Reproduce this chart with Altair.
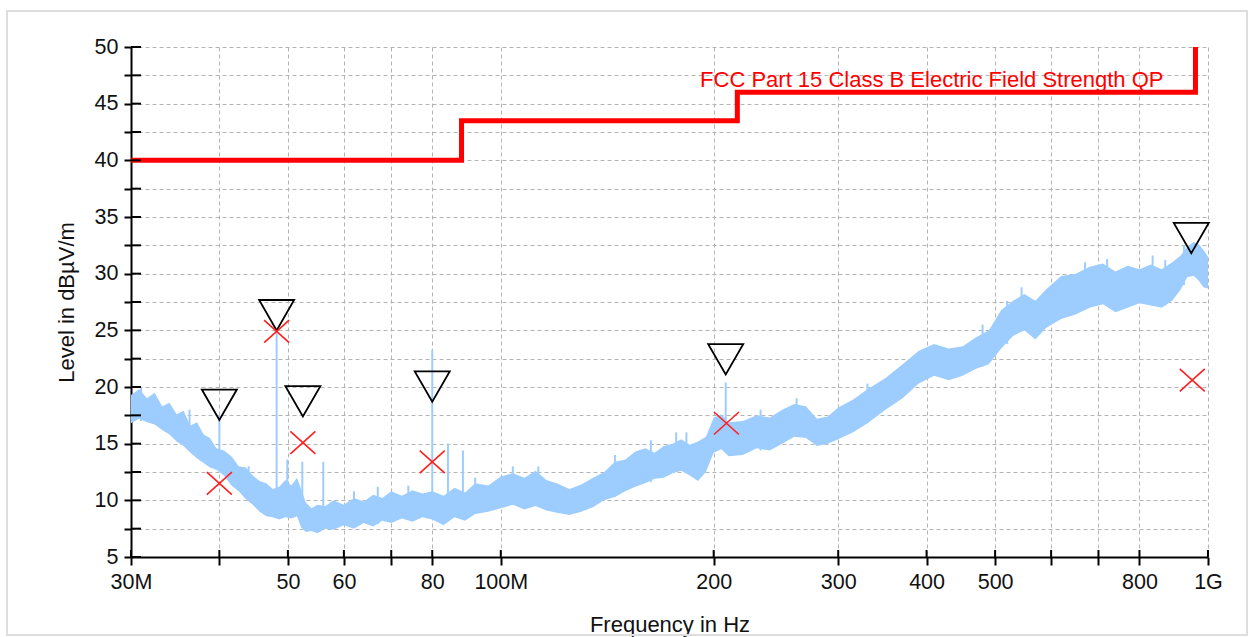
import altair as alt
import pandas as pd

# ---- measured spectrum envelope (MHz, dBuV/m) ----
FREQ = [30, 30.8, 31.6, 32.4, 33.2, 34.0, 34.8, 35.6, 36.4, 37.2, 38.0, 38.8, 39.6,
        40.6, 41.6, 42.6, 43.6, 44.6, 45.6, 46.6, 47.6, 48.6, 49.6, 50.6, 51.5, 52.2,
        53.0, 54.0, 55.0, 56.5, 58.0, 60.0, 62.0, 64.0, 66.0, 68.0, 70.0, 72.5, 75.0,
        77.5, 80.0, 83.0, 86.0, 89.0, 92.0, 96.0, 100, 104, 108, 112, 116, 120, 125,
        130, 135, 140, 145, 150, 155, 160, 165, 170, 175, 180, 185, 190, 195, 200,
        205, 210, 220, 230, 240, 250, 260, 270, 280, 290, 300, 315, 330, 350, 370,
        390, 410, 430, 450, 470, 490, 510, 530, 550, 570, 590, 620, 650, 680, 710,
        740, 770, 800, 830, 860, 890, 915, 935, 955, 970, 985, 1000]
LOW = [16.8, 17.2, 16.9, 16.7, 16.2, 15.8, 15.2, 14.8, 14.2, 13.7, 13.3, 12.9, 12.7,
       12.2, 11.3, 10.8, 10.1, 9.6, 9.0, 8.6, 8.5, 8.3, 8.5, 8.4, 8.6, 7.6,
       7.2, 7.3, 7.1, 7.5, 7.4, 7.8, 7.5, 8.0, 7.7, 8.2, 8.0, 8.4, 8.1,
       8.5, 8.3, 7.8, 8.5, 8.2, 8.8, 9.0, 9.3, 9.6, 9.2, 9.5, 9.1, 8.9, 8.7,
       9.0, 9.4, 10.0, 10.3, 10.8, 11.2, 11.5, 11.9, 12.0, 12.4, 12.6, 12.2, 11.7, 12.5, 14.2,
       14.5, 13.9, 14.0, 14.6, 14.4, 15.0, 15.6, 15.5, 14.8, 15.0, 15.4, 16.0, 16.8, 18.0, 19.0,
       20.3, 21.0, 20.6, 21.0, 21.6, 22.0, 23.4, 24.5, 25.0, 24.2, 25.2, 26.0, 26.4, 27.0, 27.3,
       26.6, 27.0, 27.4, 27.2, 27.0, 27.6, 28.6, 29.7, 29.8, 29.4, 28.8, 28.7]
HIGH = [19.3, 19.8, 19.0, 19.5, 18.3, 18.6, 17.6, 17.9, 16.6, 16.9, 15.8, 15.5, 14.6,
        14.4, 13.9, 13.0, 12.9, 12.2, 11.7, 11.5, 11.0, 11.2, 11.8, 11.3, 12.0, 11.0,
        9.8, 9.3, 9.6, 9.5, 10.0, 9.6, 10.2, 9.9, 10.5, 10.2, 10.8, 10.4, 10.9,
        10.6, 10.8, 10.4, 11.1, 10.7, 11.5, 11.3, 12.1, 12.4, 12.0, 12.6, 11.8, 11.5, 11.0,
        11.4, 12.0, 12.5, 13.4, 13.6, 14.3, 14.6, 14.2, 14.8, 15.0, 15.4, 14.9, 15.2, 15.6, 17.3,
        17.6, 16.9, 17.0, 17.5, 17.3, 18.0, 18.5, 18.3, 17.2, 17.4, 18.2, 18.9, 19.8, 20.8, 22.0,
        23.2, 23.8, 23.4, 23.6, 24.4, 25.0, 26.8, 27.6, 28.2, 27.6, 28.6, 29.8, 30.0, 30.6, 30.9,
        30.2, 30.7, 30.4, 30.8, 30.4, 31.0, 31.6, 32.4, 32.8, 32.6, 32.1, 31.5]

# ---- narrow spikes (discrete emissions and noise tips) ----
SPIKE_FREQ = [40.0, 48.2, 49.9, 52.4, 56.1, 80.0, 84.2, 88.4, 177, 208,
              31.0, 36.3, 44.0, 62.0, 67.0, 74.0, 92.0, 104, 113, 145, 163, 183,
              233, 262, 330, 480, 520, 545, 670, 720, 835, 870, 925]
SPIKE_TOP = [17.5, 25.0, 13.6, 13.4, 13.4, 23.3, 15.0, 14.4, 16.0, 20.4,
             19.9, 18.0, 13.0, 10.8, 11.2, 11.3, 12.0, 13.0, 13.0, 14.0, 15.3, 16.0,
             18.0, 19.0, 20.3, 25.5, 27.6, 28.8, 31.0, 31.3, 31.6, 31.2, 32.5]
SPIKE_BASE = [13.0, 9.0, 9.5, 9.0, 8.0, 9.0, 9.0, 9.0, 13.0, 15.0,
              17.0, 14.5, 10.0, 7.8, 7.9, 8.4, 8.8, 9.6, 9.4, 10.3, 11.6, 12.4,
              14.4, 15.6, 16.8, 21.8, 23.8, 25.0, 26.8, 27.2, 27.2, 27.2, 29.0]

# ---- limit line ----
LIMIT_FREQ = [30, 88, 88, 216, 216, 960, 960]
LIMIT_LEVEL = [40, 40, 43.5, 43.5, 46, 46, 54]
LIMIT_NAME = "FCC Part 15 Class B Electric Field Strength QP"

# ---- markers ----
PEAK_FREQ = [40.0, 48.2, 52.5, 80.0, 208, 947]
PEAK_LEVEL = [17.1, 25.0, 17.4, 18.7, 21.1, 31.8]
QP_FREQ = [40.0, 48.2, 52.5, 80.0, 208.5, 950]
QP_LEVEL = [11.5, 24.9, 15.1, 13.4, 16.8, 20.6]

# ---- axes ----
X_TICKS = [30, 40, 50, 60, 70, 80, 100, 200, 300, 400, 500, 600, 700, 800, 1000]
X_LABELS = ["30M", "", "50", "60", "", "80", "100M", "200", "300", "400", "500", "", "", "800", "1G"]
Y_TICKS = [5, 7.5, 10, 12.5, 15, 17.5, 20, 22.5, 25, 27.5, 30, 32.5, 35, 37.5, 40, 42.5, 45, 47.5, 50]

W, H = 1077, 510
FONT = "Liberation Sans"
BLUE = "#9dcdff"
GRID = "#b4b4b4"

xscale = alt.Scale(type="log", domain=[30, 1000], nice=False)
yscale = alt.Scale(domain=[5, 50], nice=False, zero=False)

label_expr = " : ".join(
    f"datum.value == {v} ? '{l}'" for v, l in zip(X_TICKS, X_LABELS)
) + " : ''"

xaxis = alt.Axis(values=X_TICKS, labelExpr=label_expr, title="Frequency in Hz",
                 grid=True, gridDash=[4, 3], gridColor=GRID, gridWidth=1,
                 domainColor="black", domainWidth=2, tickColor="black", tickWidth=2,
                 tickSize=8, labelFont=FONT, labelFontSize=21.5, labelColor="#111",
                 labelPadding=6, labelFlush=False, labelOverlap=False,
                 titleFont=FONT, titleFontSize=22, titleFontWeight="normal",
                 titleColor="#111", titleX=W / 2, titleY=74, titleBaseline="alphabetic")
yaxis = alt.Axis(values=Y_TICKS, labelExpr="datum.value % 5 == 0 ? datum.value : ''",
                 title="Level in dBµV/m", grid=True, gridDash=[4, 3], gridColor=GRID,
                 gridWidth=1, domainColor="black", domainWidth=2, tickColor="black",
                 tickWidth=2, tickSize=7, labelFont=FONT, labelFontSize=21.5, labelColor="#111",
                 labelPadding=6, labelOverlap=False, labelFlush=False,
                 titleFont=FONT, titleFontSize=22, titleFontWeight="normal", titleColor="#111",
                 titleX=-58, titleY=H / 2, titleBaseline="alphabetic", titleAngle=270)


def X(field):
    return alt.X(field, scale=xscale, axis=xaxis)


def Y(field):
    return alt.Y(field, scale=yscale, axis=yaxis)


band_df = pd.DataFrame({"f": FREQ, "lo": LOW, "hi": HIGH})
spike_df = pd.DataFrame({"f": SPIKE_FREQ, "top": SPIKE_TOP, "base": SPIKE_BASE})
limit_df = pd.DataFrame({"f": LIMIT_FREQ, "lv": LIMIT_LEVEL, "i": list(range(len(LIMIT_FREQ)))})
label_df = pd.DataFrame({"f": [LIMIT_FREQ[-1]], "lv": [LIMIT_LEVEL[-2]], "t": [LIMIT_NAME]})
peak_df = pd.DataFrame({"f": PEAK_FREQ, "lv": PEAK_LEVEL})
qp_df = pd.DataFrame({"f": QP_FREQ, "lv": QP_LEVEL})
xt_df = pd.DataFrame({"f": X_TICKS})
yt_df = pd.DataFrame({"lv": Y_TICKS})

frame = alt.Chart(pd.DataFrame({"a": [0]})).mark_rect(
    fill="transparent", stroke="#dedede", strokeWidth=2
).encode(x=alt.value(-124), x2=alt.value(1116), y=alt.value(-36), y2=alt.value(588))

band = alt.Chart(band_df).mark_area(color=BLUE, opacity=1, interpolate="linear").encode(
    x=X("f:Q"), y=Y("lo:Q"), y2="hi:Q",
)

spikes = alt.Chart(spike_df).mark_rule(color=BLUE, strokeWidth=2).encode(
    x=X("f:Q"), y=Y("base:Q"), y2="top:Q",
)

limit = alt.Chart(limit_df).mark_line(color="#ff0000", strokeWidth=5, clip=True,
                                       strokeJoin="miter", strokeCap="butt").encode(
    x=X("f:Q"), y=Y("lv:Q"), order="i:Q",
)

limit_text = alt.Chart(label_df).mark_text(
    font=FONT, fontSize=22, color="#ff0000", align="right", baseline="alphabetic",
    dx=-32, dy=-5
).encode(x=X("f:Q"), y=Y("lv:Q"), text="t:N")

peaks = alt.Chart(peak_df).mark_point(
    shape="M-1,-1.732L1,-1.732L0,0Z", size=1225, filled=False, stroke="black",
    strokeWidth=1.8, opacity=1
).encode(x=X("f:Q"), y=Y("lv:Q"))

qps = alt.Chart(qp_df).mark_point(
    shape="M-1,-0.9L1,0.9M-1,0.9L1,-0.9", size=625, filled=False, stroke="#ff2020",
    strokeWidth=1.6, opacity=1
).encode(x=X("f:Q"), y=Y("lv:Q"))

xticks_in = alt.Chart(xt_df).mark_rule(color="black", strokeWidth=2).encode(
    x=X("f:Q"), y=alt.value(H - 7), y2=alt.value(H),
)
yticks_in = alt.Chart(yt_df).mark_rule(color="black", strokeWidth=2).encode(
    y=Y("lv:Q"), x=alt.value(0), x2=alt.value(10),
)

chart = alt.layer(frame, band, spikes, limit, limit_text, peaks, qps, xticks_in, yticks_in).properties(
    width=W, height=H,
    autosize=alt.AutoSizeParams(type="none"),
    padding={"left": 131, "top": 47, "right": 43, "bottom": 80},
    background="white",
).configure_view(stroke="transparent")

chart.save("out.html", embed_options={"renderer": "svg", "actions": False})
